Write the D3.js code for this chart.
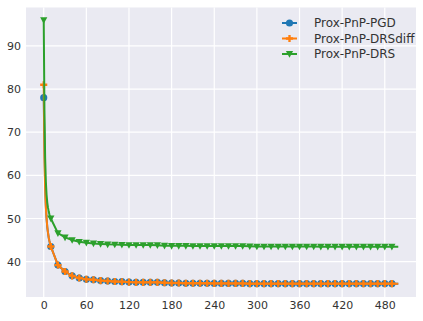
<!DOCTYPE html>
<html>
<head>
<meta charset="utf-8">
<script src="https://cdn.jsdelivr.net/npm/d3@7"></script>
<style>
  body { margin: 0; background: #fff; }
  svg text { font-family: "DejaVu Sans"; }
</style>
</head>
<body>
<div id="chart"></div>
<script>
// Prox-PnP convergence curves (markers every 10 iterations)

const iterations = [0, 1, 2, 3, 4, 5, 6, 7, 8, 9, 10,
  20, 30, 40, 50, 60, 70, 80, 90, 100, 110, 120, 130, 140, 150, 160, 170, 180, 190,
  200, 210, 220, 230, 240, 250, 260, 270, 280, 290, 300, 310, 320, 330, 340, 350,
  360, 370, 380, 390, 400, 410, 420, 430, 440, 450, 460, 470, 480, 490, 499];

const pgd = [78.0, 66.0, 58.0, 53.0, 50.0, 48.0, 46.7, 45.6, 44.8, 44.1, 43.5,
  39.2, 37.7, 36.7, 36.2, 35.9, 35.8, 35.6, 35.5, 35.4, 35.35, 35.25, 35.2, 35.2, 35.2, 35.2, 35.1, 35.05, 35.05,
  35.0, 35.0, 35.0, 35.0, 34.95, 34.95, 34.95, 34.95, 34.95, 34.9, 34.9, 34.9, 34.9, 34.9, 34.9, 34.9,
  34.9, 34.9, 34.9, 34.9, 34.9, 34.9, 34.9, 34.9, 34.9, 34.9, 34.9, 34.9, 34.9, 34.9, 34.9];

const drsdiff = [81.0, 64.0, 57.0, 52.5, 50.0, 48.0, 46.7, 45.6, 44.8, 44.1, 43.5,
  39.2, 37.7, 36.7, 36.2, 35.9, 35.8, 35.6, 35.5, 35.4, 35.35, 35.25, 35.2, 35.2, 35.2, 35.2, 35.1, 35.05, 35.05,
  35.0, 35.0, 35.0, 35.0, 34.95, 34.95, 34.95, 34.95, 34.95, 34.9, 34.9, 34.9, 34.9, 34.9, 34.9, 34.9,
  34.9, 34.9, 34.9, 34.9, 34.9, 34.9, 34.9, 34.9, 34.9, 34.9, 34.9, 34.9, 34.9, 34.9, 34.9];

const drs = [96.0, 75.0, 64.0, 58.5, 55.5, 53.7, 52.5, 51.6, 50.9, 50.4, 50.0,
  46.6, 45.6, 45.0, 44.6, 44.4, 44.2, 44.1, 44.0, 43.95, 43.9, 43.85, 43.85, 43.85, 43.85, 43.8, 43.7, 43.65, 43.65,
  43.65, 43.6, 43.6, 43.6, 43.6, 43.6, 43.6, 43.6, 43.6, 43.55, 43.5, 43.5, 43.5, 43.5, 43.5, 43.5,
  43.5, 43.5, 43.5, 43.45, 43.45, 43.45, 43.45, 43.45, 43.45, 43.45, 43.45, 43.45, 43.45, 43.45, 43.45];

const seriesNames = ["Prox-PnP-PGD", "Prox-PnP-DRSdiff", "Prox-PnP-DRS"];
const seriesColors = ["#1f77b4", "#ff7f0e", "#2ca02c"];
const seriesValues = [pgd, drsdiff, drs];

const xTicks = [0, 60, 120, 180, 240, 300, 360, 420, 480];
const yTicks = [40, 50, 60, 70, 80, 90];

const width = 423, height = 321;
const margin = { top: 7.5, right: 7, bottom: 24, left: 26 };
const FONT = "'DejaVu Sans', 'Liberation Sans', sans-serif";

const svg = d3.select("#chart").append("svg")
  .attr("width", width)
  .attr("height", height);

const x = d3.scaleLinear()
  .domain([-24.95, 523.95])
  .range([margin.left, width - margin.right]);

const y = d3.scaleLinear()
  .domain([31.8, 98.9])
  .range([height - margin.bottom, margin.top]);

// background panel
svg.append("rect")
  .attr("x", margin.left)
  .attr("y", margin.top)
  .attr("width", width - margin.left - margin.right)
  .attr("height", height - margin.top - margin.bottom)
  .attr("fill", "#eaeaf2");

// grid
svg.append("g")
  .selectAll("line")
  .data(xTicks)
  .join("line")
  .attr("x1", d => x(d)).attr("x2", d => x(d))
  .attr("y1", margin.top).attr("y2", height - margin.bottom)
  .attr("stroke", "#fff").attr("stroke-width", 1.2);

svg.append("g")
  .selectAll("line")
  .data(yTicks)
  .join("line")
  .attr("x1", margin.left).attr("x2", width - margin.right)
  .attr("y1", d => y(d)).attr("y2", d => y(d))
  .attr("stroke", "#fff").attr("stroke-width", 1.2);

// axes (labels only, seaborn style)
const xAxis = svg.append("g")
  .attr("transform", `translate(0,${height - margin.bottom})`)
  .call(d3.axisBottom(x).tickValues(xTicks).tickSize(0).tickPadding(4));
const yAxis = svg.append("g")
  .attr("transform", `translate(${margin.left},0)`)
  .call(d3.axisLeft(y).tickValues(yTicks).tickSize(0).tickPadding(5));

[xAxis, yAxis].forEach(a => {
  a.attr("font-family", null).attr("font-size", null);
  a.select(".domain").remove();
  a.selectAll("text")
    .style("font-family", FONT)
    .style("font-size", "11px")
    .attr("fill", "#333");
});

// series
const line = d3.line()
  .x((d, i) => x(iterations[i]))
  .y(d => y(d));

const symbols = [d3.symbolCircle, d3.symbolCross, null];

function drawMarker(g, k, cx, cy) {
  const c = seriesColors[k];
  if (k === 2) {
    // downward triangle
    const s = 3.6;
    g.append("path")
      .attr("d", `M${cx - s},${cy - s * 0.8}L${cx + s},${cy - s * 0.8}L${cx},${cy + s * 1.05}Z`)
      .attr("fill", c);
  } else {
    g.append("path")
      .attr("transform", `translate(${cx},${cy})`)
      .attr("d", d3.symbol().type(symbols[k]).size(k === 0 ? 40 : 28)())
      .attr("fill", c);
  }
}

seriesValues.forEach((vals, k) => {
  const g = svg.append("g");
  g.append("path")
    .datum(vals)
    .attr("d", line)
    .attr("fill", "none")
    .attr("stroke", seriesColors[k])
    .attr("stroke-width", 2);
  vals.forEach((v, i) => {
    if (iterations[i] % 10 === 0) drawMarker(g, k, x(iterations[i]), y(v));
  });
});

// legend
const legend = svg.append("g").attr("transform", "translate(282,23)");
seriesNames.forEach((name, k) => {
  const row = legend.append("g").attr("transform", `translate(0,${k * 15.5})`);
  row.append("line")
    .attr("x1", 0).attr("x2", 15)
    .attr("stroke", seriesColors[k]).attr("stroke-width", 2);
  drawMarker(row, k, 7.5, 0);
  row.append("text")
    .attr("x", 32).attr("y", 0)
    .attr("dy", "0.35em")
    .style("font-family", FONT)
    .style("font-size", "12px")
    .attr("fill", "#333")
    .text(name);
});
</script>
</body>
</html>
